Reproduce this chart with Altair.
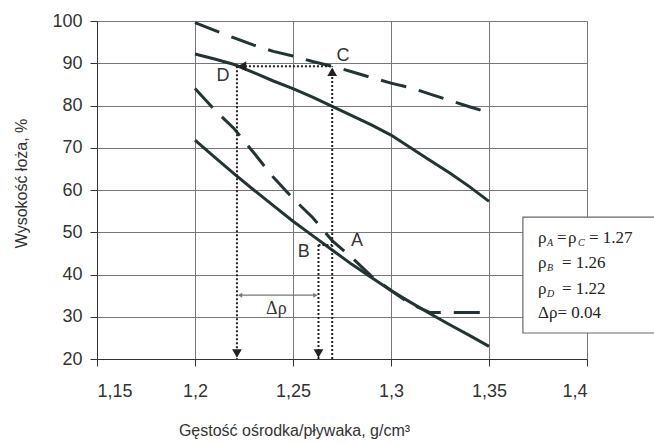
import altair as alt
import pandas as pd

# ---- data ----
x_vals = [1.20, 1.21, 1.22, 1.23, 1.24, 1.25, 1.26, 1.27, 1.28, 1.29, 1.30, 1.31, 1.32, 1.33, 1.34, 1.35]
upper_dashed = [99.6, 97.8, 96.0, 94.3, 92.8, 91.7, 90.4, 89.3, 88.0, 86.6, 85.3, 84.2, 82.7, 81.2, 79.7, 78.3]
upper_solid = [92.2, 91.0, 89.7, 87.8, 85.8, 84.0, 82.0, 79.8, 77.6, 75.4, 73.0, 70.0, 67.0, 64.0, 60.8, 57.3]
lower_dashed = [84.0, 79.0, 74.5, 68.8, 63.0, 58.0, 53.5, 48.0, 44.0, 39.6, 36.2, 33.0, 31.0, 31.0, 31.0, 31.0]
lower_solid = [71.8, 67.8, 63.8, 60.0, 56.3, 52.6, 49.2, 45.8, 42.4, 39.3, 36.2, 33.4, 30.7, 28.1, 25.6, 23.0]

x_ticks = [1.15, 1.2, 1.25, 1.3, 1.35, 1.4]
y_ticks = [20, 30, 40, 50, 60, 70, 80, 90, 100]

# annotation points (A, B, C, D) and densities
rho_A = 1.27
rho_B = 1.263
rho_D = 1.2214
level_C = 89.3
level_B = 47.0
label_names = ["A", "B", "C", "D"]
label_x = [1.2827, 1.2555, 1.2755, 1.2143]
label_y = [48.0, 45.3, 91.6, 87.0]

box_lines = [
    [("ρ", 0, False), ("A", 9, True), ("=", 19, False), ("ρ", 30, False), ("C", 40, True), ("= 1.27", 51, False)],
    [("ρ", 0, False), ("B", 9, True), ("= 1.26", 24, False)],
    [("ρ", 0, False), ("D", 9, True), ("= 1.22", 24, False)],
    [("Δρ=  0.04", 0, False)],
]
box_line_y = [48.6, 42.7, 36.6, 30.9]

# ---- build tables ----
rows = []
for name, vals, style in [("upper_dashed", upper_dashed, "dash"), ("upper_solid", upper_solid, "solid"),
                          ("lower_dashed", lower_dashed, "dash"), ("lower_solid", lower_solid, "solid")]:
    for xv, yv in zip(x_vals, vals):
        rows.append({"x": xv, "y": yv, "series": name, "style": style})
df = pd.DataFrame(rows)

LINE_COL = "#243434"
xs = alt.Scale(domain=[1.15, 1.4], nice=False, zero=False)
ys = alt.Scale(domain=[20, 100], nice=False, zero=False)

X = alt.X("x:Q", scale=xs, axis=alt.Axis(
    values=x_ticks, title="Gęstość ośrodka/pływaka, g/cm³",
    labelExpr="replace(format(datum.value, '.2~f'), '.', ',')",
    tickSize=7, labelPadding=16, titleY=76, titleX=197, titleBaseline="alphabetic"))
Y = alt.Y("y:Q", scale=ys, axis=alt.Axis(
    values=y_ticks, title="Wysokość łoża, %", tickSize=7, labelPadding=8,
    titleX=-76, titleY=162, titleBaseline="middle", titleAngle=270))

solid = alt.Chart(df).transform_filter("datum.style == 'solid'").mark_line(
    color=LINE_COL, strokeWidth=3).encode(x=X, y=Y, detail="series:N")
dashed = alt.Chart(df).transform_filter("datum.style == 'dash'").mark_line(
    color=LINE_COL, strokeWidth=3, strokeDash=[26, 13]).encode(x=X, y=Y, detail="series:N")

seg = pd.DataFrame({
    "x": [rho_D, rho_A, rho_D, rho_B, rho_B],
    "y": [level_C, 20, level_C, level_B, level_B],
    "x2": [rho_A, rho_A, rho_D, rho_B, rho_A],
    "y2": [level_C, level_C, 20, 20, level_B],
})
dotted = alt.Chart(seg).mark_rule(color="#222", strokeWidth=2, strokeDash=[2, 2]).encode(
    x=alt.X("x:Q", scale=xs), y=alt.Y("y:Q", scale=ys), x2="x2:Q", y2="y2:Q")

heads = pd.DataFrame({
    "x": [rho_D + 0.0026, rho_A, rho_D, rho_B],
    "y": [level_C, level_C - 1.3, 21.3, 21.3],
    "shape": ["triangle-left", "triangle-up", "triangle-down", "triangle-down"],
})
arrowheads = alt.Chart(heads).mark_point(filled=True, color="#222", opacity=1, size=95).encode(
    x=alt.X("x:Q", scale=xs), y=alt.Y("y:Q", scale=ys), shape=alt.Shape("shape:N", scale=None))

drho = pd.DataFrame({"x": [rho_D + 0.001], "x2": [rho_B - 0.001], "y": [35.1]})
drho_rule = alt.Chart(drho).mark_rule(color="#777", strokeWidth=1.2).encode(
    x=alt.X("x:Q", scale=xs), x2="x2:Q", y=alt.Y("y:Q", scale=ys))
drho_heads = alt.Chart(pd.DataFrame({
    "x": [rho_D + 0.0016, rho_B - 0.0016], "y": [35.1, 35.1], "shape": ["triangle-left", "triangle-right"]
})).mark_point(filled=True, color="#777", opacity=1, size=24).encode(
    x=alt.X("x:Q", scale=xs), y=alt.Y("y:Q", scale=ys), shape=alt.Shape("shape:N", scale=None))
drho_text = alt.Chart(pd.DataFrame({"x": [1.2415], "y": [31.8], "t": ["Δρ"]})).mark_text(
    font="Liberation Serif", fontSize=18, color="#333").encode(
    x=alt.X("x:Q", scale=xs), y=alt.Y("y:Q", scale=ys), text="t:N")

letters = alt.Chart(pd.DataFrame({"x": label_x, "y": label_y, "t": label_names})).mark_text(
    font="Liberation Sans", fontSize=18, color="#333").encode(
    x=alt.X("x:Q", scale=xs), y=alt.Y("y:Q", scale=ys), text="t:N")

box = alt.Chart(pd.DataFrame({"x": [1.3673], "x2": [1.45], "y": [26.15], "y2": [53.6]})).mark_rect(
    fill="white", stroke="#666", strokeWidth=1.2).encode(
    x=alt.X("x:Q", scale=xs), x2="x2:Q", y=alt.Y("y:Q", scale=ys), y2="y2:Q")

box_x = 1.375
box_layers = []
for line, ly in zip(box_lines, box_line_y):
    for txt, dx, sub in line:
        box_layers.append(
            alt.Chart(pd.DataFrame({"x": [box_x], "y": [ly], "t": [txt]})).mark_text(
                font="Liberation Serif", fontSize=10 if sub else 17, fontStyle="italic" if sub else "normal",
                align="left", baseline="middle", dx=dx, dy=5 if sub else 0, color="#222").encode(
                x=alt.X("x:Q", scale=xs), y=alt.Y("y:Q", scale=ys), text="t:N"))

chart = alt.layer(
    solid, dashed, dotted, arrowheads, drho_rule, drho_heads, drho_text, letters, box, *box_layers
).properties(
    width=490, height=338,
    autosize=alt.AutoSizeParams(type="none"),
    padding={"left": 97, "top": 21, "right": 67, "bottom": 85},
    background="white",
).configure_view(stroke=None).configure_axis(
    labelFont="Liberation Sans", labelFontSize=18, labelColor="#333",
    titleFont="Liberation Sans", titleFontSize=16, titleFontWeight="normal", titleColor="#333",
    domainColor="#333", tickColor="#333", gridColor="#777", gridWidth=1,
)

chart.save("out.html", embed_options={"renderer": "svg", "actions": False})
